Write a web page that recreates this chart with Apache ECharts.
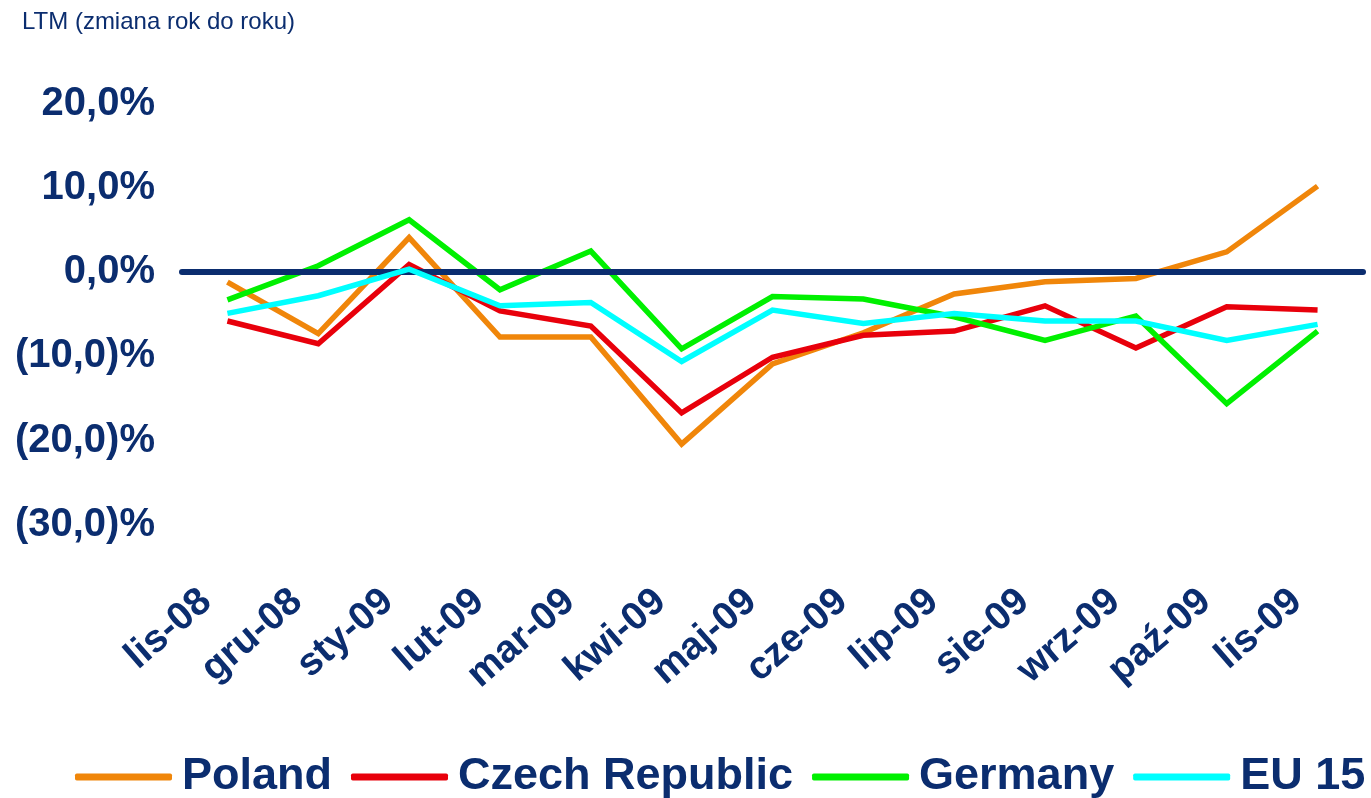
<!DOCTYPE html>
<html>
<head>
<meta charset="utf-8">
<script src="https://cdn.jsdelivr.net/npm/echarts@6/dist/echarts.min.js"></script>
<style>
html,body{margin:0;padding:0;background:#fff;}
#chart{width:1371px;height:798px;}
</style>
</head>
<body>
<div id="chart"></div>
<script>
var categories = ['lis-08','gru-08','sty-09','lut-09','mar-09','kwi-09','maj-09','cze-09','lip-09','sie-09','wrz-09','paź-09','lis-09'];
var poland  = [-1.2, -7.3, 4.1, -7.7, -7.7, -20.4, -10.9, -7.2, -2.6, -1.15, -0.75, 2.4, 10.2];
var czech   = [-5.8, -8.5, 0.9, -4.6, -6.4, -16.7, -10.1, -7.5, -7.0, -4.0, -9.0, -4.1, -4.5];
var germany = [-3.3, 0.75, 6.2, -2.1, 2.5, -9.1, -2.9, -3.2, -5.3, -8.1, -5.2, -15.6, -7.0];
var eu15    = [-4.9, -2.8, 0.35, -4.0, -3.6, -10.6, -4.5, -6.1, -4.9, -5.8, -5.8, -8.1, -6.2];
var seriesNames = ['Poland','Czech Republic','Germany','EU 15'];
var yTicks = [20, 10, 0, -10, -20, -30];
var yTickLabels = ['20,0%','10,0%','0,0%','(10,0)%','(20,0)%','(30,0)%'];
var titleText = 'LTM (zmiana rok do roku)';

var NAVY = '#0b2d6f';
var FONT = "'Liberation Sans', Arial, sans-serif";
var colors = ['#f0860a', '#e8000b', '#00f000', '#00ffff'];
var seriesData = [poland, czech, germany, eu15];

var chart = echarts.init(document.getElementById('chart'), null, {renderer: 'canvas'});

var series = [{
  name: 'zero',
  type: 'line',
  data: [],
  z: 1,
  silent: true,
  markLine: {
    silent: true,
    symbol: ['none', 'none'],
    label: {show: false},
    lineStyle: {color: NAVY, width: 6, type: 'solid', cap: 'round'},
    data: [{yAxis: 0}]
  }
}];
for (var i = 0; i < seriesNames.length; i++) {
  series.push({
    name: seriesNames[i],
    type: 'line',
    data: seriesData[i],
    symbol: 'none',
    z: 2 + i,
    lineStyle: {color: colors[i], width: 5.5, join: 'miter'},
    itemStyle: {color: colors[i]}
  });
}

chart.setOption({
  animation: false,
  backgroundColor: '#fff',
  title: {
    text: titleText,
    left: 22, top: 10, padding: 0,
    textStyle: {fontFamily: FONT, fontSize: 24, fontWeight: 'normal', color: NAVY}
  },
  legend: {
    data: seriesNames,
    left: 75, top: 753, padding: 0,
    width: 1296,
    itemGap: 19,
    itemWidth: 97, itemHeight: 7,
    icon: 'roundRect',
    textStyle: {fontFamily: FONT, fontSize: 45, fontWeight: 'bold', color: NAVY, lineHeight: 48, padding: [0, 0, 0, 5]}
  },
  grid: {left: 182, right: 8, top: 103.5, bottom: 273, containLabel: false},
  xAxis: {
    type: 'category',
    data: categories,
    boundaryGap: true,
    axisLine: {show: false},
    axisTick: {show: false},
    splitLine: {show: false},
    axisLabel: {
      interval: 0,
      rotate: 41,
      margin: 53,
      padding: [0, 28, 0, 0],
      fontFamily: FONT, fontSize: 39, fontWeight: 'bold', color: NAVY
    }
  },
  yAxis: {
    type: 'value',
    min: -30, max: 20, interval: 10,
    axisLine: {show: false},
    axisTick: {show: false},
    splitLine: {show: false},
    axisLabel: {
      margin: 27,
      fontFamily: FONT, fontSize: 40, fontWeight: 'bold', color: NAVY,
      formatter: function (v) {
        var idx = yTicks.indexOf(Math.round(v));
        return idx >= 0 ? yTickLabels[idx] : '';
      }
    }
  },
  series: series
});
</script>
</body>
</html>
